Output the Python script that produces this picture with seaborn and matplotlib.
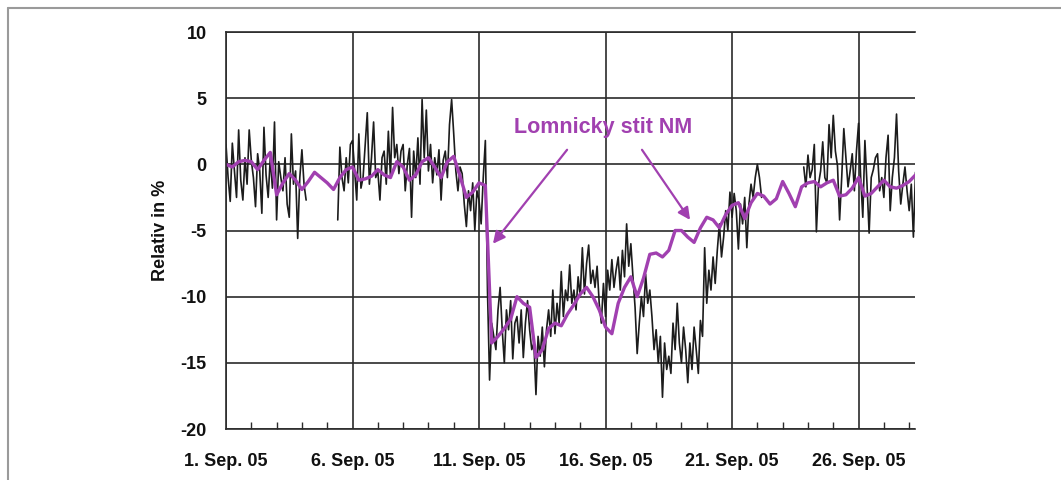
import numpy as np
import pandas as pd
import matplotlib
matplotlib.use("Agg")
import matplotlib.pyplot as plt
import seaborn as sns
from matplotlib.transforms import Bbox, TransformedBbox
from matplotlib.lines import Line2D
from matplotlib.ticker import MultipleLocator, FixedLocator

nan = np.nan

# Local station record, relative change in %, 2-hour steps from 1 Sep 00:00
station_values = [
    1.5, -1.0, -2.8, 1.6, -0.5, -2.5, 2.6, -1.2, -2.7, 0.5, -1.5, 2.6,            # 1 Sep
    0.3, -1.0, -3.2, 0.8, -0.5, -3.7, 2.8, -0.8, -2.5, 0.5, -1.8, 3.2,            # 2 Sep
    -4.2, 0.2, -1.0, -2.0, 0.5, -3.0, -4.0, 2.3, -1.5, -0.5, -5.6, -1.0,          # 3 Sep
    1.1, -1.5, -2.7, nan, nan, nan, nan, nan, nan, nan, nan, nan,                 # 4 Sep
    nan, nan, nan, nan, nan, -4.2, 1.3, -1.0, -2.0, 0.5, -1.4, 1.5,               # 5 Sep
    1.8, -0.5, -2.7, 2.3, -1.8, -1.0, 1.5, 3.9, -1.5, 0.5, 3.2, -1.0,             # 6 Sep
    -0.5, -2.7, 0.5, 1.0, -1.5, 2.5, -1.0, 4.3, 0.5, 1.5, -0.7, 1.0,              # 7 Sep
    1.5, -2.0, 0.0, 1.2, -4.0, 1.0, -1.0, 2.0, -1.5, 4.9, 0.5, 4.1,               # 8 Sep
    -0.5, 1.5, -1.4, 0.5, -0.8, 1.1, -2.7, 0.3, 1.0, -1.0, 3.0, 4.9,              # 9 Sep
    2.3, -0.5, -2.0, -0.2, -0.7, -3.0, -4.7, -2.0, -3.5, -1.4, -5.0, -2.0,        # 10 Sep
    -2.7, -4.5, -1.0, 1.8, -9.5, -16.3, -12.0, -13.0, -14.0, -11.0, -9.3, -12.5,  # 11 Sep
    -15.0, -11.0, -12.5, -10.3, -14.7, -12.0, -11.5, -13.5, -11.0, -14.6, -12.0, -10.3,  # 12 Sep
    -12.5, -14.0, -13.5, -17.4, -13.0, -14.5, -12.3, -15.3, -12.5, -11.0, -13.0, -9.5,   # 13 Sep
    -12.8, -10.5, -12.0, -8.1, -11.5, -9.5, -10.3, -7.6, -10.5, -9.5, -11.0, -8.5,       # 14 Sep
    -10.0, -6.3, -9.8, -7.5, -6.1, -9.0, -8.0, -9.3, -7.7, -10.5, -12.0, -9.0,           # 15 Sep
    -11.5, -8.0, -9.5, -7.2, -9.3, -8.0, -7.0, -9.5, -6.5, -8.5, -4.5, -7.7,             # 16 Sep
    -6.0, -8.5, -10.8, -14.3, -12.0, -10.0, -11.5, -8.3, -10.5, -9.5, -11.5, -14.0,      # 17 Sep
    -12.5, -15.0, -13.0, -17.6, -13.5, -15.5, -14.5, -15.8, -12.0, -14.0, -10.5, -13.5,  # 18 Sep
    -15.0, -12.3, -14.0, -16.5, -13.5, -15.5, -12.3, -14.0, -15.8, -11.8, -13.0, -6.3,   # 19 Sep
    -10.5, -8.0, -9.5, -7.0, -9.0, -6.5, -4.5, -7.0, -5.5, -3.5, -5.0, -2.1,             # 20 Sep
    -4.0, -2.2, -3.5, -6.4, -3.0, -4.5, -2.5, -6.3, -3.0, -1.5, -2.5, -1.0,              # 21 Sep
    0.0, -1.0, -2.5, nan, nan, nan, nan, nan, nan, nan, nan, nan,                        # 22 Sep
    nan, nan, nan, nan, nan, nan, nan, nan, nan, nan, -0.2, -1.7,                        # 23 Sep
    0.7, -1.0, -0.4, 1.5, -5.1, -1.5, -0.5, 1.7, -1.0, -1.4, 3.0, 0.5,                   # 24 Sep
    3.7, 1.0, -0.1, -4.2, -1.0, 2.7, 0.5, -1.7, -0.5, 0.8, -2.0, 1.0,                    # 25 Sep
    3.1, -1.0, -4.0, 1.8, -1.5, -5.2, -1.0, -0.4, 0.5, 0.8, -2.0, -1.0,                  # 26 Sep
    -2.5, 0.5, 2.2, -3.5, -1.0, 0.5, 3.8, -0.5, -3.0, -1.5, -0.2, -2.0,                  # 27 Sep
    -3.5, -1.5, -5.5, -0.6,                                                              # 28 Sep
]

# Lomnicky stit neutron monitor, relative change in %, 6-hour steps
nm_values = [
    0.0, -0.2, 0.2, 0.3,
    0.2, -0.4, 0.3, 0.9,
    -2.3, -1.4, -0.7, -1.2,
    -1.9, -1.3, -0.6, -1.0,
    -1.4, -1.9, -1.0, -0.4,
    -0.2, -1.2, -1.1, -0.9,
    -0.4, -0.8, -1.0, 0.2,
    -0.2, -1.2, -0.8, 0.2,
    0.5, -0.2, -1.0, 0.2,
    0.6, -0.9, -2.5, -2.1,
    -1.4, -1.6, -13.5, -13.0,
    -12.4, -11.7, -10.0, -10.5,
    -10.8, -14.6, -14.0, -12.4,
    -12.0, -12.2, -11.3, -10.6,
    -9.8, -9.3, -10.0, -11.0,
    -12.3, -12.8, -10.5, -9.3,
    -8.5, -10.0, -8.6, -6.8,
    -6.7, -7.0, -6.5, -5.0,
    -5.0, -5.5, -5.9, -4.8,
    -4.0, -4.2, -4.8, -3.8,
    -3.1, -2.9, -4.1, -2.9,
    -2.2, -2.4, -3.0, -2.6,
    -1.3, -2.2, -3.2, -1.7,
    -1.4, -1.3, -1.7, -1.4,
    -1.2, -2.4, -2.3, -1.8,
    -1.0, -2.4, -2.2, -1.7,
    -1.2, -1.7, -1.8, -1.6,
    -1.3, -0.8, -1.7,
]

tick_days = [0, 5, 10, 15, 20, 25]
tick_labels = ["1. Sep. 05", "6. Sep. 05", "11. Sep. 05",
               "16. Sep. 05", "21. Sep. 05", "26. Sep. 05"]
y_ticks = [-20, -15, -10, -5, 0, 5, 10]

MAGENTA = "#A140B0"
DARK = "#1c1c1c"

station = pd.DataFrame({"day": np.arange(len(station_values)) * 2 / 24.0,
                        "value": station_values})
station["segment"] = station["value"].isna().cumsum()
station = station.dropna()

nm = pd.DataFrame({"day": np.arange(len(nm_values)) * 6 / 24.0,
                   "value": nm_values})

sns.set_style("white")
plt.rcParams["font.family"] = ["Liberation Sans", "DejaVu Sans"]
plt.rcParams["axes.unicode_minus"] = False

fig = plt.figure(figsize=(10.61, 4.8), dpi=100)
ax = fig.add_axes([226 / 1061, 1 - 429 / 480, (915 - 226) / 1061, (429 - 32) / 480])

sns.lineplot(data=station, x="day", y="value", units="segment", estimator=None,
             color=DARK, lw=1.2, ax=ax)
sns.lineplot(data=nm, x="day", y="value", color=MAGENTA, lw=2.4, ax=ax)

ax.set_xlim(0, 27.23)
ax.set_ylim(-20, 10)
ax.xaxis.set_major_locator(FixedLocator(tick_days))
ax.set_xticklabels(tick_labels)
ax.xaxis.set_minor_locator(MultipleLocator(1))
ax.set_yticks(y_ticks)
ax.set_yticklabels([str(v) for v in y_ticks])

ax.grid(True, which="major", color="#2b2b2b", lw=1.2)
ax.set_axisbelow(True)
for side in ["left", "top", "bottom"]:
    ax.spines[side].set_color("#2b2b2b")
    ax.spines[side].set_linewidth(1.2)
ax.spines["right"].set_visible(False)

ax.tick_params(axis="both", which="major", length=0, labelsize=13)
ax.tick_params(axis="x", which="major", pad=17)
ax.tick_params(axis="y", which="major", pad=14)
ax.tick_params(axis="x", which="minor", direction="in", length=5, width=1,
               color="#2b2b2b", bottom=True)
for lab in ax.get_xticklabels() + ax.get_yticklabels():
    lab.set_fontweight("bold")
    lab.set_color("#111111")

ax.set_xlabel("")
ax.set_ylabel("Relativ in %", fontsize=13, fontweight="bold", color="#111111",
              labelpad=8)

# the right edge of the figure area cuts the last date label
clip = TransformedBbox(Bbox([[0, 0], [918 / 1061, 1]]), fig.transFigure)
for lab in ax.get_xticklabels():
    lab.set_clip_on(True)
    lab.set_clip_box(clip)

ax.text(14.9, 2.8, "Lomnicky stit NM", color=MAGENTA, fontsize=15.5,
        fontweight="bold", ha="center", va="center")
arrow = dict(arrowstyle="-|>", color=MAGENTA, lw=1.6, mutation_scale=18,
             shrinkA=0, shrinkB=0)
ax.annotate("", xy=(10.55, -6.0), xytext=(13.48, 1.1), arrowprops=arrow)
ax.annotate("", xy=(18.34, -4.2), xytext=(16.44, 1.1), arrowprops=arrow)

# thin outer frame on the left and top
fig.add_artist(Line2D([8 / 1061, 8 / 1061], [0, 1 - 8 / 480],
                      transform=fig.transFigure, color="#9a9a9a", lw=1.5))
fig.add_artist(Line2D([8 / 1061, 1], [1 - 8 / 480, 1 - 8 / 480],
                      transform=fig.transFigure, color="#9a9a9a", lw=1.5))

fig.savefig("out.png", dpi=100)
